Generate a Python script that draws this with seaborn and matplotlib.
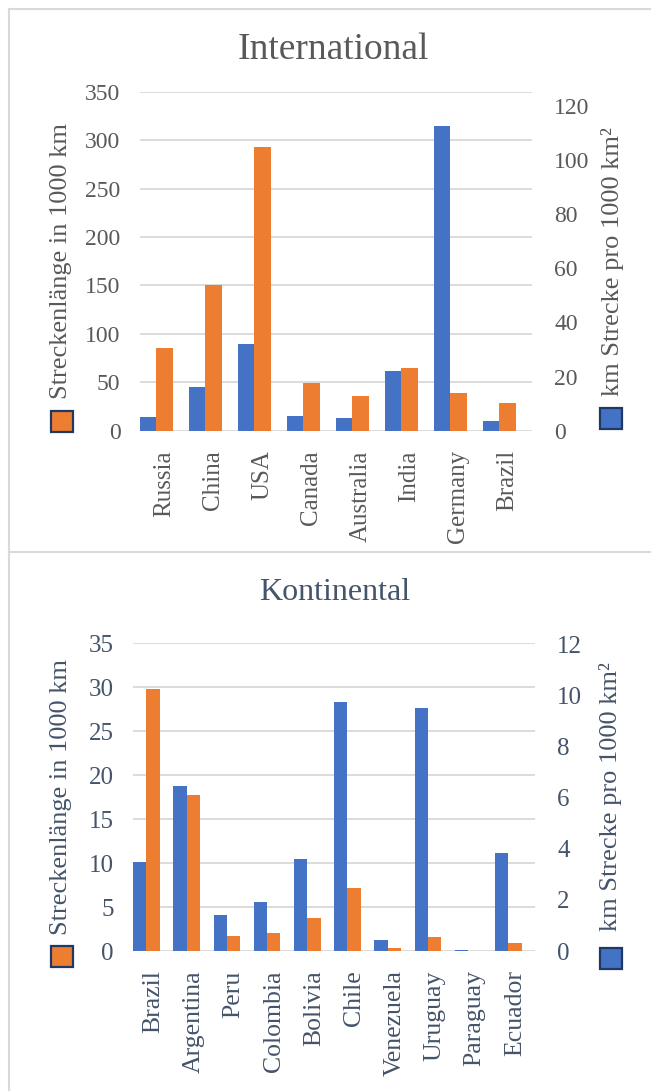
import matplotlib
matplotlib.use("Agg")
import matplotlib.pyplot as plt
from matplotlib.lines import Line2D
from matplotlib.patches import Rectangle
import pandas as pd
import seaborn as sns

# International comparison
intl_countries = ["Russia", "China", "USA", "Canada", "Australia", "India", "Germany", "Brazil"]
intl_length = [85, 150, 293, 49, 36, 65, 39, 29]                 # Streckenlänge in 1000 km
intl_density = [4.9, 16.0, 32.0, 5.5, 4.6, 21.9, 112.7, 3.4]     # km Strecke pro 1000 km²

# South American comparison
sa_countries = ["Brazil", "Argentina", "Peru", "Colombia", "Bolivia", "Chile",
                "Venezuela", "Uruguay", "Paraguay", "Ecuador"]
sa_length = [29.8, 17.8, 1.7, 2.0, 3.8, 7.2, 0.35, 1.55, 0.0, 0.87]
sa_density = [3.5, 6.45, 1.4, 1.9, 3.6, 9.75, 0.45, 9.5, 0.05, 3.85]

left_ticks_intl = [0, 50, 100, 150, 200, 250, 300, 350]
right_ticks_intl = [0, 20, 40, 60, 80, 100, 120]
left_ticks_sa = [0, 5, 10, 15, 20, 25, 30, 35]
right_ticks_sa = [0, 2, 4, 6, 8, 10, 12]

BLUE = "#4472C4"
ORANGE = "#ED7D31"
GRID = "#D9D9D9"
FRAME = "#1F3864"

sns.set_theme(style="white")
plt.rcParams["font.family"] = ["Liberation Serif", "DejaVu Serif"]

W, H = 651, 1091
fig = plt.figure(figsize=(W / 100, H / 100), dpi=100)


def px_axes(l, t, r, b):
    return fig.add_axes([l / W, 1 - b / H, (r - l) / W, (b - t) / H])


def draw_panel(ax, countries, length, density, lticks, rticks, rtop, width,
               tcolor, tsize, xsize):
    # three slots per country: density, length, and an empty spacer
    levels = ["density", "length", "pad"]
    pal = {"density": BLUE, "length": ORANGE, "pad": "white"}
    df_len = pd.DataFrame({"country": countries, "series": "length", "value": length})
    df_den = pd.DataFrame({"country": countries, "series": "density", "value": density})
    ax2 = ax.twinx()
    sns.barplot(data=df_len, x="country", y="value", hue="series", hue_order=levels,
                palette=pal, order=countries, width=width, saturation=1, dodge=True,
                errorbar=None, legend=False, ax=ax, linewidth=0)
    sns.barplot(data=df_den, x="country", y="value", hue="series", hue_order=levels,
                palette=pal, order=countries, width=width, saturation=1, dodge=True,
                errorbar=None, legend=False, ax=ax2, linewidth=0)
    ax.set_ylim(0, lticks[-1])
    ax.set_yticks(lticks)
    ax2.set_ylim(0, rtop)
    ax2.set_yticks(rticks)
    ax.set_xlim(-0.5, len(countries) - 0.5)
    ax.set_xticks(range(len(countries)))
    ax.set_xticklabels(countries, rotation=90, fontsize=xsize, color=tcolor)
    ax.set_xlabel("")
    ax.set_ylabel("")
    ax2.set_ylabel("")
    ax.set_axisbelow(True)
    ax.yaxis.grid(True, color=GRID, linewidth=1.3)
    ax.xaxis.grid(False)
    for a in (ax, ax2):
        for s in a.spines.values():
            s.set_visible(False)
        a.tick_params(length=0)
    ax.tick_params(axis="y", labelsize=tsize, labelcolor=tcolor, pad=14)
    ax.tick_params(axis="x", pad=14)
    ax2.tick_params(axis="y", labelsize=tsize, labelcolor=tcolor, pad=16)
    return ax2


# Top panel: International
ax_top = px_axes(140, 91.7, 532, 430.7)
draw_panel(ax_top, intl_countries, intl_length, intl_density,
           left_ticks_intl, right_ticks_intl, 125.2, 0.98, "#595959", 17, 18)

# Bottom panel: Kontinental
ax_bot = px_axes(133, 643.3, 535, 951)
draw_panel(ax_bot, sa_countries, sa_length, sa_density,
           left_ticks_sa, right_ticks_sa, 12.05, 0.99, "#44546A", 18, 18.5)

# Titles
fig.text(333 / W, 1 - 50 / H, "International", ha="center", va="center",
         fontsize=27, color="#595959")
fig.text(335 / W, 1 - 593 / H, "Kontinental", ha="center", va="center",
         fontsize=23, color="#44546A")

# Axis titles with legend keys
LEFT_LABEL = "Streckenlänge in 1000 km"
RIGHT_LABEL = "km Strecke pro 1000 km²"


def axis_title(x, y, text, color):
    fig.text(x / W, 1 - y / H, text, rotation=90, ha="center", va="center",
             fontsize=19, color=color)


def key(x0, y0, color):
    fig.add_artist(Rectangle((x0 / W, 1 - (y0 + 21) / H), 22 / W, 21 / H,
                             facecolor=color, edgecolor=FRAME, linewidth=1.6,
                             transform=fig.transFigure))


axis_title(61, 261, LEFT_LABEL, "#595959")
key(51, 411, ORANGE)
axis_title(612, 262, RIGHT_LABEL, "#595959")
key(600, 408, BLUE)

axis_title(61, 797, LEFT_LABEL, "#44546A")
key(51, 946, ORANGE)
axis_title(611, 797, RIGHT_LABEL, "#44546A")
key(600, 948, BLUE)

# Chart frames
for xs, ys in [((9 / W, 1.0), (1 - 9 / H, 1 - 9 / H)),
               ((9 / W, 9 / W), (0.0, 1 - 9 / H)),
               ((9 / W, 1.0), (1 - 552 / H, 1 - 552 / H))]:
    fig.add_artist(Line2D(xs, ys, color=GRID, linewidth=1.5,
                          transform=fig.transFigure))

fig.savefig("out.png", dpi=100, facecolor="white")
